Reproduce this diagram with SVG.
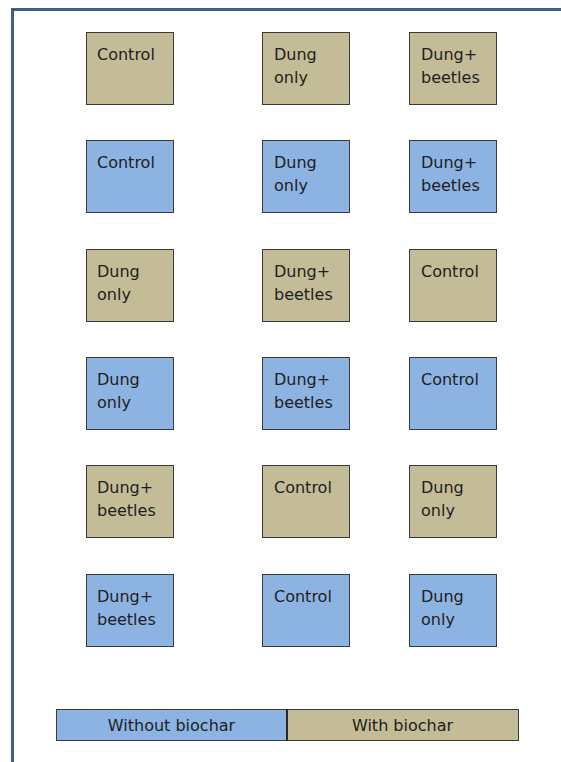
<svg xmlns="http://www.w3.org/2000/svg" width="561" height="762" viewBox="0 0 561 762">
<style>
.t{fill:#c4bc96;stroke:#3a3a3a;stroke-width:1}
.b{fill:#8db3e2;stroke:#3a3a3a;stroke-width:1}
text{font-family:"DejaVu Sans",Verdana,sans-serif;font-size:16px;fill:#1e1e1e}
.c{text-anchor:middle}
</style>
<rect x="0" y="0" width="561" height="762" fill="#ffffff"/>
<path d="M12.5,762 V9.5 H561" fill="none" stroke="#3d5d8c" stroke-width="3"/>
<g id="r1c1"><rect class="t" x="86.5" y="32.5" width="87" height="72"/><text x="97" y="59.5">Control</text></g>
<g id="r1c2"><rect class="t" x="262.5" y="32.5" width="87" height="72"/><text x="274" y="59.5">Dung</text><text x="274" y="82.5">only</text></g>
<g id="r1c3"><rect class="t" x="409.5" y="32.5" width="87" height="72"/><text x="421" y="59.5">Dung+</text><text x="421" y="82.5">beetles</text></g>
<g id="r2c1"><rect class="b" x="86.5" y="140.5" width="87" height="72"/><text x="97" y="167.5">Control</text></g>
<g id="r2c2"><rect class="b" x="262.5" y="140.5" width="87" height="72"/><text x="274" y="167.5">Dung</text><text x="274" y="190.5">only</text></g>
<g id="r2c3"><rect class="b" x="409.5" y="140.5" width="87" height="72"/><text x="421" y="167.5">Dung+</text><text x="421" y="190.5">beetles</text></g>
<g id="r3c1"><rect class="t" x="86.5" y="249.5" width="87" height="72"/><text x="97" y="276.5">Dung</text><text x="97" y="299.5">only</text></g>
<g id="r3c2"><rect class="t" x="262.5" y="249.5" width="87" height="72"/><text x="274" y="276.5">Dung+</text><text x="274" y="299.5">beetles</text></g>
<g id="r3c3"><rect class="t" x="409.5" y="249.5" width="87" height="72"/><text x="421" y="276.5">Control</text></g>
<g id="r4c1"><rect class="b" x="86.5" y="357.5" width="87" height="72"/><text x="97" y="384.5">Dung</text><text x="97" y="407.5">only</text></g>
<g id="r4c2"><rect class="b" x="262.5" y="357.5" width="87" height="72"/><text x="274" y="384.5">Dung+</text><text x="274" y="407.5">beetles</text></g>
<g id="r4c3"><rect class="b" x="409.5" y="357.5" width="87" height="72"/><text x="421" y="384.5">Control</text></g>
<g id="r5c1"><rect class="t" x="86.5" y="465.5" width="87" height="72"/><text x="97" y="492.5">Dung+</text><text x="97" y="515.5">beetles</text></g>
<g id="r5c2"><rect class="t" x="262.5" y="465.5" width="87" height="72"/><text x="274" y="492.5">Control</text></g>
<g id="r5c3"><rect class="t" x="409.5" y="465.5" width="87" height="72"/><text x="421" y="492.5">Dung</text><text x="421" y="515.5">only</text></g>
<g id="r6c1"><rect class="b" x="86.5" y="574.5" width="87" height="72"/><text x="97" y="601.5">Dung+</text><text x="97" y="624.5">beetles</text></g>
<g id="r6c2"><rect class="b" x="262.5" y="574.5" width="87" height="72"/><text x="274" y="601.5">Control</text></g>
<g id="r6c3"><rect class="b" x="409.5" y="574.5" width="87" height="72"/><text x="421" y="601.5">Dung</text><text x="421" y="624.5">only</text></g>
<g id="legend-without"><rect class="b" x="56.5" y="709.5" width="230.5" height="31"/><text class="c" x="171.5" y="731">Without biochar</text></g>
<g id="legend-with"><rect class="t" x="287" y="709.5" width="231.5" height="31"/><text class="c" x="402.5" y="731">With biochar</text></g>
<g id="connectors"><line x1="287" y1="709.5" x2="287" y2="740.5" stroke="#111" stroke-width="1.5"/></g>
</svg>
